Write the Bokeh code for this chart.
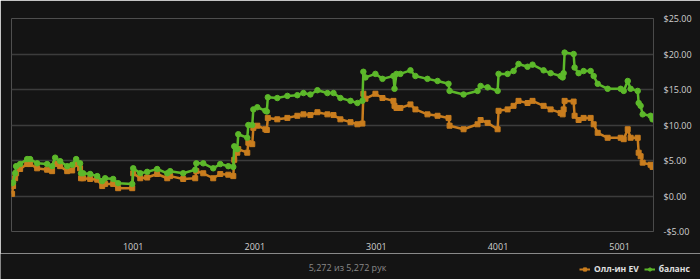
from bokeh.plotting import figure
from bokeh.layouts import column
from bokeh.models import FixedTicker, Legend, LegendItem, Label, Range1d, ColumnDataSource
from bokeh.embed import file_html
from bokeh.resources import INLINE

# ---- data ----
hands = [5, 13, 30, 38, 71, 129, 153, 211, 293, 334, 359, 400, 458, 499, 532, 564,
         572, 589, 647, 705, 746, 770, 836, 877, 993, 1001, 1059, 1116, 1198, 1281,
         1305, 1412, 1511, 1520, 1577, 1659, 1717, 1783, 1824, 1832, 1857, 1865, 1939,
         1948, 1980, 1989, 2022, 2088, 2100, 2108, 2186, 2269, 2351, 2401, 2458, 2516,
         2598, 2648, 2705, 2788, 2845, 2886, 2894, 2911, 2993, 3051, 3141, 3150, 3166,
         3198, 3281, 3322, 3421, 3504, 3594, 3603, 3718, 3833, 3858, 3916, 3998, 4006,
         4080, 4129, 4170, 4244, 4285, 4376, 4434, 4516, 4533, 4541, 4549, 4623, 4631,
         4664, 4705, 4763, 4788, 4821, 4903, 5010, 5035, 5068, 5092, 5150, 5158, 5174,
         5191, 5256, 5272]
balance = [1.8, 1.9, 3.2, 4.2, 4.5, 5.2, 5.2, 4.6, 4.5, 4.2, 5.4, 4.9, 4.2, 4.4, 5.2, 4.6,
           3.2, 3.2, 3.1, 2.8, 2.1, 2.5, 2.4, 1.8, 1.7, 3.9, 3.2, 3.4, 3.8, 3.2,
           3.5, 3.2, 3.7, 4.6, 4.6, 3.9, 4.5, 4.2, 4.1, 7.0, 6.6, 8.7, 8.2,
           10.0, 10.0, 12.2, 12.5, 12.0, 11.9, 13.9, 13.8, 14.1, 14.2, 14.5, 14.3, 14.9,
           14.5, 14.5, 13.8, 13.4, 13.1, 13.4, 17.5, 16.7, 17.2, 16.5, 16.9, 15.1, 17.2,
           17.2, 17.7, 16.9, 16.5, 16.2, 15.8, 14.8, 14.3, 14.8, 15.5, 15.3, 14.8, 17.2,
           17.2, 17.6, 18.6, 18.2, 18.5, 17.7, 17.3, 16.9, 16.7, 17.3, 20.2, 20.0, 18.1,
           17.3, 17.6, 17.6, 16.9, 15.8, 15.1, 15.1, 14.8, 16.2, 15.1, 14.8, 13.1, 12.7,
           11.5, 11.3, 10.8]
allin_ev = [0.3, 1.4, 2.5, 3.2, 3.8, 4.5, 4.5, 3.9, 3.7, 3.5, 4.5, 4.2, 3.5, 3.6, 4.5, 3.9,
            2.5, 2.5, 2.4, 2.3, 1.4, 1.7, 1.7, 1.1, 1.1, 3.2, 2.5, 2.6, 3.1, 2.5,
            2.8, 2.4, 2.5, 3.5, 3.2, 2.5, 3.1, 3.0, 2.8, 5.1, 6.1, 6.6, 6.1,
            7.5, 7.3, 9.6, 9.9, 9.4, 9.3, 11.0, 10.8, 11.0, 11.3, 11.5, 11.4, 11.8,
            11.5, 11.4, 10.8, 10.4, 10.1, 10.2, 14.4, 13.7, 14.4, 13.8, 13.4, 12.7, 12.4,
            12.4, 12.9, 12.2, 11.5, 11.3, 11.0, 9.9, 9.4, 10.1, 10.7, 10.3, 9.4, 12.0,
            12.2, 12.7, 13.4, 13.1, 13.4, 12.7, 12.2, 11.7, 11.5, 12.2, 13.4, 13.3, 11.3,
            10.7, 11.0, 11.0, 10.1, 8.9, 8.2, 8.2, 8.0, 9.4, 8.2, 8.2, 6.1, 5.6,
            4.7, 4.4, 4.1]
series_names = ["Олл-ин EV", "баланс"]
x_ticks = [1001, 2001, 3001, 4001, 5001]
y_ticks = [-5, 0, 5, 10, 15, 20, 25]
y_tick_labels = ["-$5.00", "$0.00", "$5.00", "$10.00", "$15.00", "$20.00", "$25.00"]
footer_text = "5,272 из 5,272 рук"

BG = "#141414"
ORANGE = "#c97d1e"
GREEN = "#5cb82a"
FONT = "Open Sans"

src = ColumnDataSource(dict(h=hands, ev=allin_ev, bal=balance))

# ---- main chart ----
p = figure(width=700, height=253, output_backend="svg", toolbar_location=None,
           x_range=Range1d(0, 5280), y_range=Range1d(-5, 25),
           y_axis_location="right",
           min_border_left=11, min_border_right=47, min_border_top=18, min_border_bottom=22)
p.frame_align = False
p.background_fill_color = BG
p.border_fill_color = BG
p.outline_line_color = None

p.xgrid.grid_line_color = None
p.ygrid.grid_line_color = "#3c3c3c"
p.ygrid.grid_line_width = 1.5
p.ygrid.ticker = FixedTicker(ticks=y_ticks)

p.xaxis.ticker = FixedTicker(ticks=x_ticks)
p.xaxis.axis_line_color = None
p.xaxis.major_tick_line_color = None
p.xaxis.minor_tick_line_color = None
p.xaxis.major_label_text_color = "#d0d0d0"
p.xaxis.major_label_text_font = FONT
p.xaxis.major_label_text_font_size = "9px"
p.xaxis.major_label_standoff = 5

p.yaxis.ticker = FixedTicker(ticks=y_ticks)
p.yaxis.major_label_overrides = {t: l for t, l in zip(y_ticks, y_tick_labels)}
p.yaxis.axis_line_color = "#4a4a4a"
p.yaxis.axis_line_width = 1
p.yaxis.major_tick_line_color = None
p.yaxis.minor_tick_line_color = None
p.yaxis.major_label_text_color = "#d0d0d0"
p.yaxis.major_label_text_font = FONT
p.yaxis.major_label_text_font_size = "9px"
p.yaxis.major_label_standoff = 4

p.line("h", "ev", source=src, color=ORANGE, line_width=2.5)
p.scatter("h", "ev", source=src, marker="square", size=5, color=ORANGE)
p.line("h", "bal", source=src, color=GREEN, line_width=2.5)
p.scatter("h", "bal", source=src, marker="circle", size=5.5, color=GREEN)

# ---- footer strip with legend and hand count ----
f = figure(width=700, height=26, output_backend="svg", toolbar_location=None,
           x_range=Range1d(0, 700), y_range=Range1d(0, 26),
           x_axis_location=None, y_axis_location=None,
           min_border_left=0, min_border_right=0, min_border_top=0, min_border_bottom=0)
f.frame_align = False
f.background_fill_color = BG
f.border_fill_color = BG
f.outline_line_color = None
f.grid.visible = False

nan = float("nan")
key_src = ColumnDataSource(dict(x=[nan], y=[nan]))
k_ev_l = f.line("x", "y", source=key_src, color=ORANGE, line_width=2)
k_ev_s = f.scatter("x", "y", source=key_src, marker="square", size=5, color=ORANGE)
k_bal_l = f.line("x", "y", source=key_src, color=GREEN, line_width=2)
k_bal_s = f.scatter("x", "y", source=key_src, marker="circle", size=5.5, color=GREEN)

legend = Legend(items=[LegendItem(label=series_names[0], renderers=[k_ev_l, k_ev_s]),
                       LegendItem(label=series_names[1], renderers=[k_bal_l, k_bal_s])],
                orientation="horizontal", location=(579, 5),
                background_fill_alpha=0, border_line_color=None,
                label_text_color="#e0e0e0", label_text_font=FONT,
                label_text_font_style="bold", label_text_font_size="8.5px",
                glyph_width=11, glyph_height=8, spacing=5, padding=0, margin=0,
                label_standoff=4, label_height=10)
f.add_layout(legend, "center")

footer = Label(x=347, y=12, text=footer_text,
               text_color="#8a8a8a", text_font=FONT, text_font_size="9px",
               text_align="center", text_baseline="middle")
f.add_layout(footer)

layout = column(p, f, spacing=0)
open("out.html", "w").write(file_html(layout, INLINE))
